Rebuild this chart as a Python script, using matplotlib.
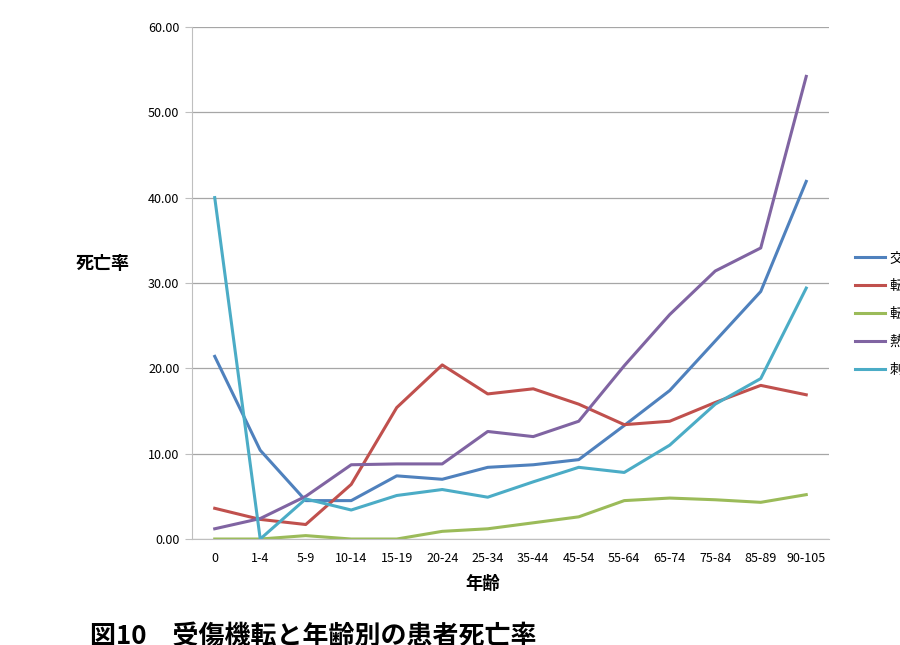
import matplotlib
matplotlib.use('Agg')
import matplotlib.pyplot as plt

plt.rcParams['font.family'] = ['Noto Sans CJK JP', 'DejaVu Sans']

ages = ['0', '1-4', '5-9', '10-14', '15-19', '20-24', '25-34', '35-44',
        '45-54', '55-64', '65-74', '75-84', '85-89', '90-105']

traffic = [21.4, 10.4, 4.5, 4.5, 7.4, 7.0, 8.4, 8.7, 9.3, 13.3, 17.4, 23.2, 29.0, 41.9]
fall = [3.6, 2.3, 1.7, 6.4, 15.4, 20.4, 17.0, 17.6, 15.8, 13.4, 13.8, 16.0, 18.0, 16.9]
tumble = [0.0, 0.0, 0.4, 0.0, 0.0, 0.9, 1.2, 1.9, 2.6, 4.5, 4.8, 4.6, 4.3, 5.2]
burn = [1.2, 2.4, 5.0, 8.7, 8.8, 8.8, 12.6, 12.0, 13.8, 20.3, 26.3, 31.4, 34.1, 54.2]
stab = [40.0, 0.0, 4.7, 3.4, 5.1, 5.8, 4.9, 6.7, 8.4, 7.8, 11.0, 15.8, 18.8, 29.4]

series = [
    ('交通事故', traffic, '#4F81BD'),
    ('転落', fall, '#C0504D'),
    ('転倒', tumble, '#9BBB59'),
    ('熱傷', burn, '#8064A2'),
    ('刺傷', stab, '#4BACC6'),
]

fig = plt.figure(figsize=(9, 6.45), dpi=100)
ax = fig.add_axes([0.2133, 0.1643, 0.7078, 0.794])

x = range(len(ages))
for name, vals, col in series:
    ax.plot(x, vals, color=col, lw=2.2, label=name)

ax.set_xlim(-0.5, len(ages) - 0.5)
ax.set_ylim(0, 60)
ax.set_yticks(range(0, 61, 10))
ax.set_yticklabels([f'{v:.2f}' for v in range(0, 61, 10)], fontsize=9)
ax.set_xticks(list(x))
ax.set_xticklabels(ages, fontsize=9)
ax.grid(axis='y', color='#a6a6a6', lw=0.9)
ax.set_axisbelow(True)
for s in ['top', 'right']:
    ax.spines[s].set_visible(False)
ax.spines['left'].set_color('#bfbfbf')
ax.spines['bottom'].set_color('#bfbfbf')
ax.tick_params(axis='y', length=5, color='#bfbfbf', pad=4)
ax.tick_params(axis='x', length=0, pad=9)

ax.set_xlabel('年齢', fontsize=12.5, fontweight='bold')
ax.xaxis.set_label_coords(0.457, -0.07)
fig.text(0.084, 0.592, '死亡率', fontsize=13, fontweight='bold', va='center')

fig.legend(loc='upper left', bbox_to_anchor=(0.936, 0.63), frameon=False,
           fontsize=10, handlelength=2.2, labelspacing=1.0, handletextpad=0.3)

fig.text(0.1, 0.013, '図10　受傷機転と年齢別の患者死亡率', fontsize=18.7,
         fontweight='bold', va='center')

fig.savefig('out.png', dpi=100)
